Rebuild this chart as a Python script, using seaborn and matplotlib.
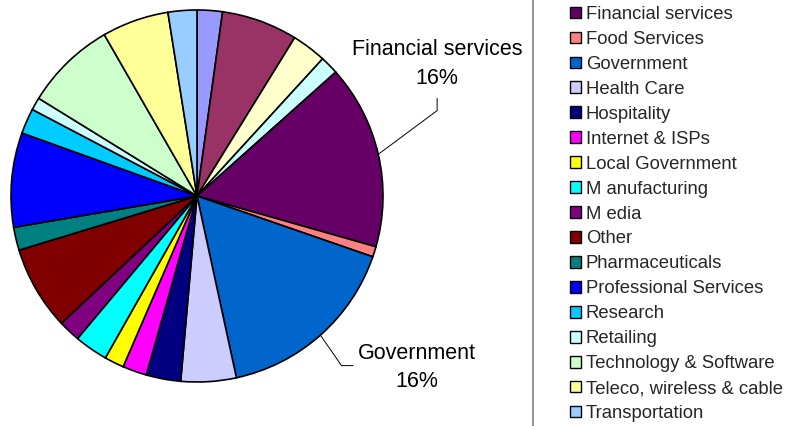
import numpy as np
import matplotlib
matplotlib.use('Agg')
import matplotlib.pyplot as plt
from matplotlib.lines import Line2D
import seaborn as sns

# first four sectors sit above the visible part of the legend
sectors = ['Aerospace & Defence', 'Banking', 'Consulting', 'Education',
           'Financial services', 'Food Services', 'Government', 'Health Care',
           'Hospitality', 'Internet & ISPs', 'Local Government', 'M anufacturing',
           'M edia', 'Other', 'Pharmaceuticals', 'Professional Services',
           'Research', 'Retailing', 'Technology & Software',
           'Teleco, wireless & cable', 'Transportation']
shares = [2.2, 6.6, 3.0, 1.6,
          16.0, 0.9, 16.3, 4.8,
          3.0, 2.1, 1.7, 2.9,
          1.9, 7.3, 2.0, 8.2,
          2.2, 1.1, 7.9,
          5.8, 2.5]
colors = ['#9999FF', '#993366', '#FFFFCC', '#CCFFFF',
          '#660066', '#FF8080', '#0066CC', '#CCCCFF',
          '#000080', '#FF00FF', '#FFFF00', '#00FFFF',
          '#800080', '#800000', '#008080', '#0000FF',
          '#00CCFF', '#CCFFFF', '#CCFFCC',
          '#FFFF99', '#99CCFF']
labelled = ['Financial services', 'Government']
first_visible = 4

sns.set_theme(style='white')
plt.rcParams['font.family'] = ['Liberation Sans', 'DejaVu Sans']

W, H = 809, 426
fig = plt.figure(figsize=(W / 100, H / 100), dpi=100)
cx, cy, R = 197, 196, 186
ax = fig.add_axes([(cx - R) / W, (H - cy - R) / H, 2 * R / W, 2 * R / H])

wedges, _ = ax.pie(shares, colors=sns.color_palette(colors), startangle=90,
                   counterclock=False, radius=1,
                   wedgeprops=dict(edgecolor='black', linewidth=1.2))
ax.set_xlim(-1, 1)
ax.set_ylim(-1, 1)
ax.set_aspect('equal')
ax.axis('off')

total = sum(shares)
# label layout: text centre, elbow point, leader end (axes data units)
label_layout = {
    'Financial services': dict(text=(1.29, 0.71), elbow=(1.291, 0.459), end=(1.291, 0.525)),
    'Government': dict(text=(1.183, -0.92), elbow=(0.777, -0.912), end=(0.84, -0.912)),
}
for name in labelled:
    i = sectors.index(name)
    w = wedges[i]
    mid = np.deg2rad((w.theta1 + w.theta2) / 2)
    rim = (np.cos(mid), np.sin(mid))
    lay = label_layout[name]
    xs = [rim[0], lay['elbow'][0], lay['end'][0]]
    ys = [rim[1], lay['elbow'][1], lay['end'][1]]
    ax.plot(xs, ys, color='black', linewidth=0.7, clip_on=False)
    ax.text(lay['text'][0], lay['text'][1],
            f"{name}\n{round(shares[i] / total * 100)}%",
            ha='center', va='center', fontsize=15.5, linespacing=1.45,
            color='black', clip_on=False)

leg = fig.legend(wedges[first_visible:], sectors[first_visible:],
                 loc='upper left', bbox_to_anchor=(570 / W, 1 - 6 / H),
                 frameon=False, fontsize=13.3, handlelength=0.6, handleheight=0.6,
                 handletextpad=0.25, labelspacing=0.43, borderpad=0, borderaxespad=0)
for h in leg.legend_handles:
    h.set_linewidth(1.0)

fig.add_artist(Line2D([533 / W, 533 / W], [0, 1], color='#808080', linewidth=1.2,
                      transform=fig.transFigure))

fig.savefig('out.png', dpi=100)
